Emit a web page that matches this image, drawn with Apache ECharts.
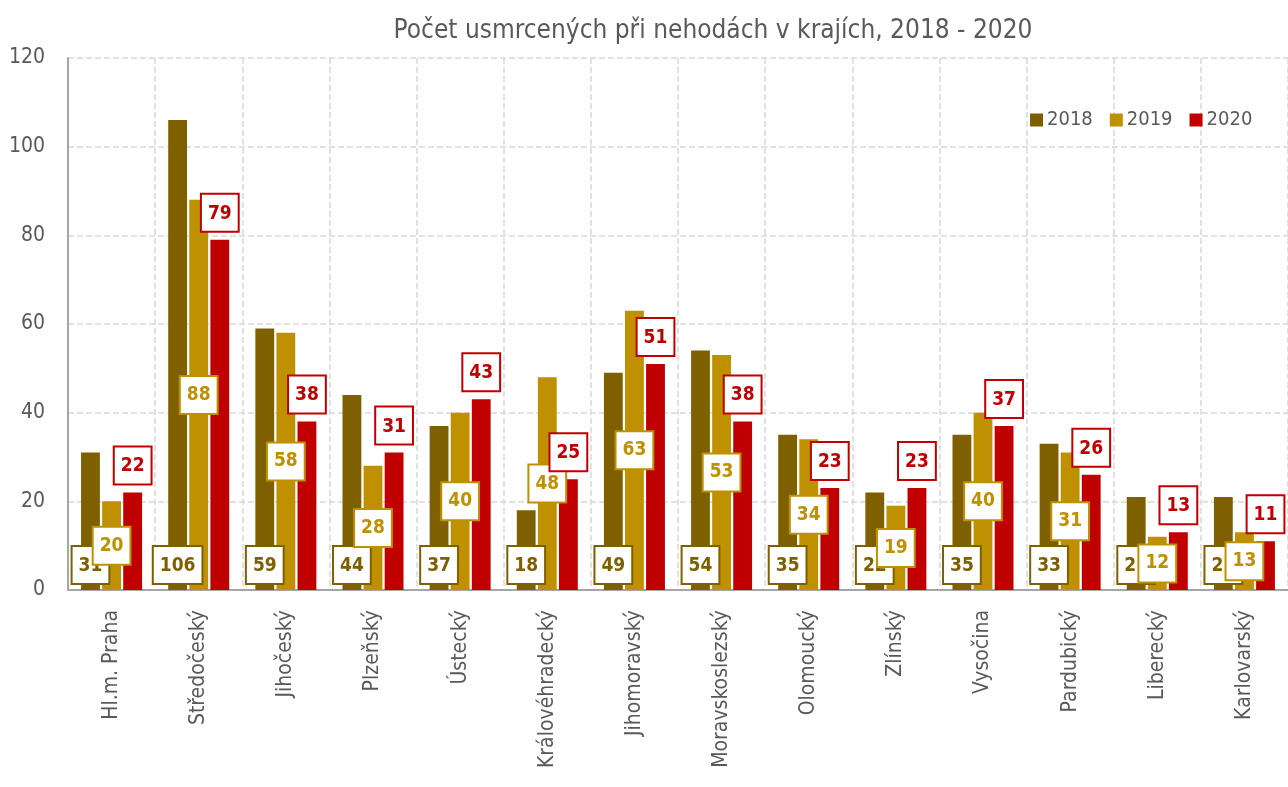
<!DOCTYPE html>
<html>
<head>
<meta charset="utf-8">
<script src="https://cdn.jsdelivr.net/npm/echarts@6/dist/echarts.min.js"></script>
<style>
html,body{margin:0;padding:0;background:#fff;}
#c{width:1288px;height:787px;}
</style>
</head>
<body>
<div id="c"></div>
<script>
const categories = ["Hl.m. Praha","Středočeský","Jihočeský","Plzeňský","Ústecký","Královéhradecký","Jihomoravský","Moravskoslezský","Olomoucký","Zlínský","Vysočina","Pardubický","Liberecký","Karlovarský"];
const years = ["2018","2019","2020"];
const values2018 = [31,106,59,44,37,18,49,54,35,22,35,33,21,21];
const values2019 = [20,88,58,28,40,48,63,53,34,19,40,31,12,13];
const values2020 = [22,79,38,31,43,25,51,38,23,23,37,26,13,11];
const yTicks = [0,20,40,60,80,100,120];

const FONT = '"Liberation Sans Narrow","Arial Narrow","DejaVu Sans Condensed",sans-serif';
const colors = ['#7F6000','#BF9000','#C00000'];

function lbl(color, position, distance){
  return {
    show:true, position:position, distance:distance,
    color:color, fontFamily:FONT, fontWeight:'bold', fontSize:19,
    backgroundColor:'#ffffff', borderColor:color, borderWidth:2,
    padding:[8,6,6,6], lineHeight:22
  };
}

const chart = echarts.init(document.getElementById('c'), null, {renderer:'canvas'});
chart.setOption({
  animation:false,
  title:{
    text:'Počet usmrcených při nehodách v krajích, 2018 - 2020',
    left:708, top:13, textAlign:'center',
    textStyle:{fontFamily:FONT, fontSize:26, fontWeight:'normal', color:'#595959'}
  },
  legend:{
    data:years, left:1025, top:105,
    itemWidth:13, itemHeight:13, itemGap:17,
    icon:'rect',
    textStyle:{fontFamily:FONT, fontSize:20, color:'#595959', padding:[0,0,0,-1]}
  },
  grid:{left:68, right:-12, top:58, bottom:197, containLabel:false},
  xAxis:{
    type:'category', data:categories,
    axisLine:{show:true, lineStyle:{color:'#A6A6A6', width:2}},
    axisTick:{show:false},
    axisLabel:{rotate:90, interval:0, margin:20, fontFamily:FONT, fontSize:21, color:'#595959'},
    splitLine:{show:true, lineStyle:{type:'dashed', color:'#D9D9D9', width:1.5}}
  },
  yAxis:{
    type:'value', min:yTicks[0], max:yTicks[yTicks.length-1], interval:20,
    axisLine:{show:true, lineStyle:{color:'#A6A6A6', width:2}},
    axisTick:{show:false},
    axisLabel:{margin:23, fontFamily:FONT, fontSize:21, color:'#595959'},
    splitLine:{show:true, lineStyle:{type:'dashed', color:'#D9D9D9', width:1.5}}
  },
  series:[
    {name:years[0], type:'bar', data:values2018, itemStyle:{color:colors[0]},
     barCategoryGap:'30%', barGap:'12%', label:lbl(colors[0],'insideBottom',7)},
    {name:years[1], type:'bar', data:values2019, itemStyle:{color:colors[1]},
     barCategoryGap:'30%', barGap:'12%', label:lbl(colors[1],'inside',0)},
    {name:years[2], type:'bar', data:values2020, itemStyle:{color:colors[2]},
     barCategoryGap:'30%', barGap:'12%', label:lbl(colors[2],'top',9)}
  ]
});
</script>
</body>
</html>
